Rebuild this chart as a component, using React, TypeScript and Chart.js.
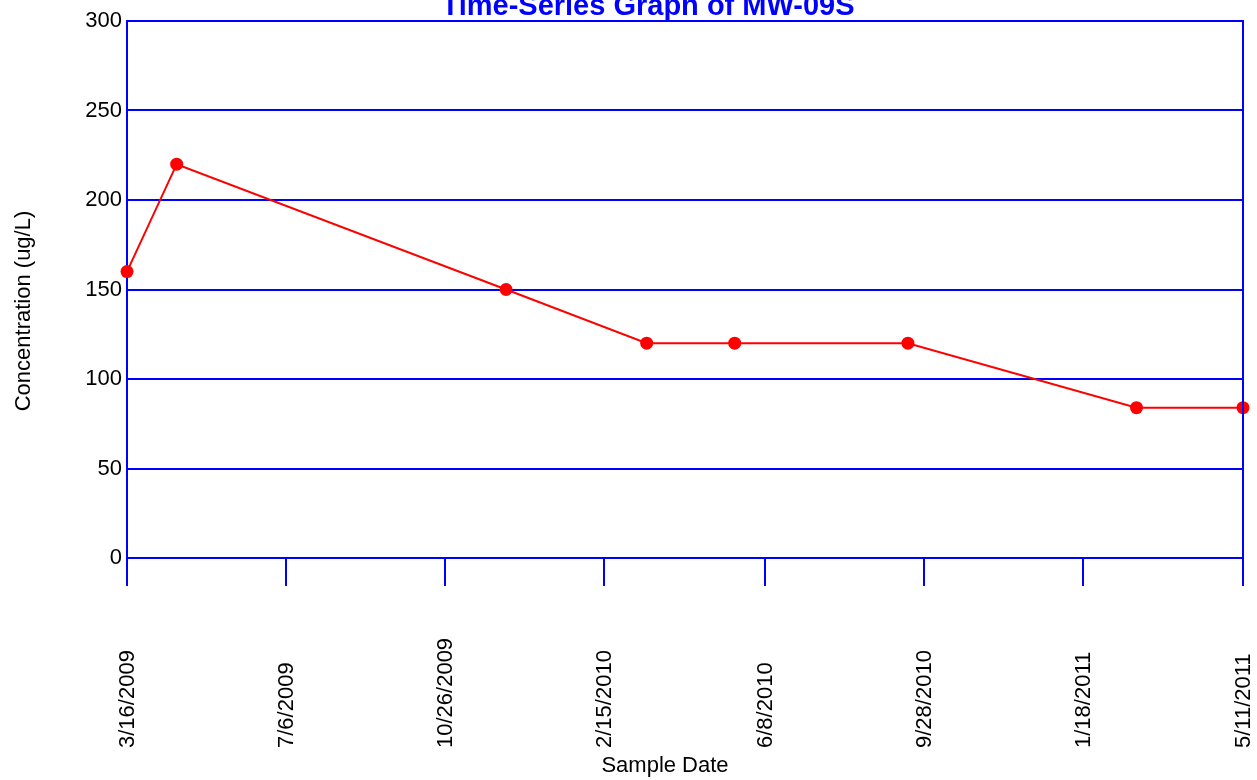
import React, { useEffect, useRef } from "react";
import { Chart, registerables } from "chart.js";

Chart.register(...registerables);

const chartTitle = "Time-Series Graph of MW-09S";
const xAxisTitle = "Sample Date";
const yAxisTitle = "Concentration (ug/L)";

const sampleDates = ["3/16/2009", "4/20/2009", "12/8/2009", "3/17/2010", "5/18/2010", "9/17/2010", "2/25/2011", "5/11/2011"];
const concentrations = [160, 220, 150, 120, 120, 120, 84, 84];
const xTickLabels = ["3/16/2009", "7/6/2009", "10/26/2009", "2/15/2010", "6/8/2010", "9/28/2010", "1/18/2011", "5/11/2011"];
const yMin = 0;
const yMax = 300;
const yStep = 50;

const FONT = "'Liberation Sans', Arial, sans-serif";
const BLUE = "#0000FF";
const RED = "#FF0000";

function dayNum(s: string): number {
  const [m, d, y] = s.split("/").map(Number);
  return Date.UTC(y, m - 1, d) / 86400000;
}

const textPlugin = {
  id: "customText",
  afterDraw(chart: any) {
    const ctx = chart.ctx;
    const area = chart.chartArea;
    const xs = chart.scales.x;
    ctx.save();
    // right border
    ctx.strokeStyle = BLUE;
    ctx.lineWidth = 2;
    ctx.beginPath();
    ctx.moveTo(area.right, area.top - 1);
    ctx.lineTo(area.right, area.bottom);
    ctx.stroke();

    // x tick labels (rotated, starting from bottom)
    ctx.fillStyle = "#000";
    ctx.font = `22px ${FONT}`;
    ctx.textAlign = "left";
    ctx.textBaseline = "middle";
    xs.ticks.forEach((t: any, i: number) => {
      const x = xs.getPixelForValue(t.value);
      ctx.save();
      ctx.translate(x + 1, 748);
      ctx.rotate(-Math.PI / 2);
      ctx.fillText(xTickLabels[i], 0, 0);
      ctx.restore();
    });

    // axis titles
    ctx.textAlign = "center";
    ctx.fillText(xAxisTitle, 665, 766);
    ctx.save();
    ctx.translate(24, 311);
    ctx.rotate(-Math.PI / 2);
    ctx.fillText(yAxisTitle, 0, 0);
    ctx.restore();

    // title (partially cut at top)
    ctx.fillStyle = BLUE;
    ctx.font = `bold 29px ${FONT}`;
    ctx.textBaseline = "alphabetic";
    ctx.fillText(chartTitle, 648, 15);
    ctx.restore();
  },
};

export default function App() {
  const ref = useRef<HTMLCanvasElement | null>(null);
  useEffect(() => {
    if (!ref.current) return;
    const points = sampleDates.map((s, i) => ({ x: dayNum(s), y: concentrations[i] }));
    const tickVals = xTickLabels.map(dayNum);
    const chart = new Chart(ref.current, {
      type: "line",
      data: {
        datasets: [
          {
            data: points,
            borderColor: RED,
            backgroundColor: RED,
            borderWidth: 2,
            pointRadius: 6.5,
            pointBackgroundColor: RED,
            pointBorderWidth: 0,
            tension: 0,
            clip: false as any,
          },
        ],
      },
      options: {
        animation: false,
        responsive: false,
        layout: { padding: { top: 21, right: 14, left: 0, bottom: 0 } },
        plugins: { legend: { display: false }, tooltip: { enabled: false }, title: { display: false } },
        scales: {
          x: {
            type: "linear",
            min: tickVals[0],
            max: tickVals[tickVals.length - 1],
            afterBuildTicks: (s: any) => {
              s.ticks = tickVals.map((v) => ({ value: v }));
            },
            afterFit: (s: any) => {
              s.height = 222;
            },
            ticks: { display: false },
            grid: { drawOnChartArea: false, drawTicks: true, tickLength: 28, color: BLUE, lineWidth: 2 },
            border: { display: true, color: BLUE, width: 2 },
          },
          y: {
            min: yMin,
            max: yMax,
            afterFit: (s: any) => {
              s.width = 127;
            },
            ticks: {
              stepSize: yStep,
              color: "#000",
              font: { family: FONT, size: 22 },
              padding: 5,
            },
            grid: { color: BLUE, lineWidth: 2, drawTicks: false },
            border: { display: true, color: BLUE, width: 2 },
          },
        },
      },
      plugins: [textPlugin],
    } as any);
    return () => chart.destroy();
  }, []);
  return (
    <div style={{ position: "absolute", left: 0, top: 0, width: 1257, height: 780, background: "#fff" }}>
      <canvas ref={ref} width={1257} height={780} style={{ display: "block" }} />
    </div>
  );
}
